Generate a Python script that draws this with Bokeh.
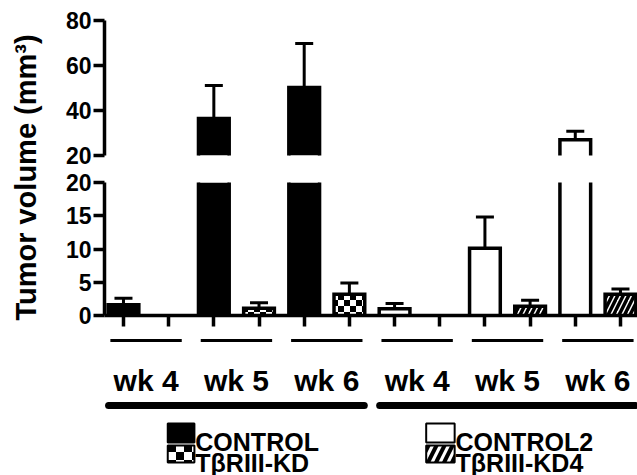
import math
import base64
from bokeh.plotting import figure
from bokeh.models import (Range1d, FixedTicker, Whisker, TeeHead, ColumnDataSource,
                          ImageURLTexture)
from bokeh.layouts import row, column
from bokeh.core.properties import value
from bokeh.embed import file_html
from bokeh.resources import INLINE

# ---------------- data ----------------
weeks = ["wk 4", "wk 5", "wk 6"]
series = ["CONTROL", "TβRIII-KD", "CONTROL2", "TβRIII-KD4"]
control_mean = [1.6, 36.4, 50.2]
control_sem = [1.0, 14.7, 19.6]
kd_mean = [0.0, 1.1, 3.2]
kd_sem = [0.0, 0.8, 1.7]
control2_mean = [1.0, 10.1, 27.0]
control2_sem = [0.8, 4.7, 3.8]
kd4_mean = [0.0, 1.4, 3.2]
kd4_sem = [0.0, 0.9, 0.8]
upper_ticks = [20, 40, 60, 80]
lower_ticks = [0, 5, 10, 15, 20]
y_title = "Tumor volume (mm³)"

FONT = "Liberation Sans"
BAR_W = 0.68

def xpos(g, w, s):
    return g * 6 + w * 2 + s

series_data = [
    (0, 0, control_mean, control_sem),
    (0, 1, kd_mean, kd_sem),
    (1, 0, control2_mean, control2_sem),
    (1, 1, kd4_mean, kd4_sem),
]

def checker_url(c):
    n = 2 * c
    svg = ("<svg xmlns='http://www.w3.org/2000/svg' width='%d' height='%d'>"
           "<rect width='%d' height='%d' fill='white'/>"
           "<rect width='%d' height='%d' fill='black'/>"
           "<rect x='%d' y='%d' width='%d' height='%d' fill='black'/></svg>"
           % (n, n, n, n, c, c, c, c, c, c))
    return "data:image/svg+xml;base64," + base64.b64encode(svg.encode()).decode()

checker_bar = ImageURLTexture(url=checker_url(6))
checker_leg = ImageURLTexture(url=checker_url(8))

def fill_style(i, legend=False):
    if i == 0:
        return dict(fill_color="black")
    if i == 1:
        return dict(fill_color="white", hatch_pattern=value("checker"),
                    hatch_extra={"checker": checker_leg if legend else checker_bar},
                    hatch_color="black")
    if i == 2:
        return dict(fill_color="white")
    return dict(fill_color="white", hatch_pattern="right_diagonal_line",
                hatch_color="black", hatch_scale=16 if legend else 11,
                hatch_weight=4 if legend else 3.5)

x_range = Range1d(-0.42, 11.377)

def base_fig(height, y_range, **kw):
    p = figure(width=581, height=height, x_range=x_range, y_range=y_range,
               output_backend="svg", toolbar_location=None,
               min_border_left=48, min_border_right=0, **kw)
    p.grid.visible = False
    p.outline_line_color = None
    p.background_fill_color = "white"
    p.border_fill_color = "white"
    return p

def style_yaxis(ax, ticks):
    ax.ticker = FixedTicker(ticks=ticks)
    ax.axis_line_width = 3.5
    ax.major_tick_line_width = 3.5
    ax.major_tick_out = 11
    ax.major_tick_in = 0
    ax.minor_tick_line_color = None
    ax.major_label_text_font = FONT
    ax.major_label_text_font_style = "bold"
    ax.major_label_text_font_size = "23px"
    ax.major_label_standoff = 2
    ax.major_label_text_color = "black"

top = base_fig(168, Range1d(20, 80), x_axis_location=None,
               min_border_top=20, min_border_bottom=13)
style_yaxis(top.yaxis[0], upper_ticks)

bot = base_fig(164, Range1d(0, 20), min_border_top=14, min_border_bottom=17)
style_yaxis(bot.yaxis[0], lower_ticks)
xa = bot.xaxis[0]
xa.ticker = FixedTicker(ticks=[xpos(g, w, s) for g in range(2) for w in range(3) for s in range(2)])
xa.major_label_text_color = None
xa.major_label_text_font_size = "1px"
xa.major_label_standoff = 0
xa.axis_line_width = 3.5
xa.major_tick_line_width = 3.5
xa.major_tick_out = 11
xa.major_tick_in = 0
xa.minor_tick_line_color = None

for i, (g, s, means, sems) in enumerate(series_data):
    for p, lo in ((top, 20), (bot, 0)):
        idx = [w for w in range(3) if means[w] > lo]
        if not idx:
            continue
        xs = [xpos(g, w, s) for w in idx]
        ms = [means[w] for w in idx]
        src = ColumnDataSource(dict(x=xs, top=ms))
        outline = ColumnDataSource(dict(
            xs=[[x - BAR_W / 2, x - BAR_W / 2, x + BAR_W / 2, x + BAR_W / 2] for x in xs],
            ys=[[0, m, m, 0] for m in ms]))
        p.vbar(x="x", top="top", bottom=0, width=BAR_W, source=src,
               line_color=None, **fill_style(i))
        p.multi_line(xs="xs", ys="ys", source=outline, line_color="black",
                     line_width=3.5, line_join="miter")
    for p, cond in ((top, lambda m: m > 20), (bot, lambda m: m <= 20)):
        sel = [k for k in range(3) if sems[k] > 0 and cond(means[k])]
        if not sel:
            continue
        wsrc = ColumnDataSource(dict(x=[xpos(g, k, s) for k in sel],
                                     lower=[means[k] for k in sel],
                                     upper=[means[k] + sems[k] for k in sel]))
        p.add_layout(Whisker(source=wsrc, base="x", lower="lower", upper="upper",
                             line_width=3, line_color="black", lower_head=None,
                             upper_head=TeeHead(size=18, line_width=3, line_color="black"),
                             level="annotation"))

# ---------------- annotations under the axis ----------------
ann = base_fig(143, Range1d(0, 143), x_axis_location=None, y_axis_location=None,
               min_border_top=0, min_border_bottom=0)
pair_centers = [xpos(g, w, 0) + 0.5 for g in range(2) for w in range(3)]
pair_labels = [weeks[w] for g in range(2) for w in range(3)]
ann.segment(x0=[c - 0.79 for c in pair_centers], x1=[c + 0.79 for c in pair_centers],
            y0=135, y1=135, line_width=3, line_color="black")
ann.text(x=pair_centers, y=95, text=pair_labels, text_align="center",
         text_baseline="alphabetic", text_font=value(FONT), text_font_style="bold",
         text_font_size=value("30px"), text_color="black")
group_centers = [xpos(g, 1, 0) + 0.5 for g in range(2)]
ann.segment(x0=[c - 2.83 for c in group_centers], x1=[c + 2.83 for c in group_centers],
            y0=70, y1=70, line_width=7, line_color="black", line_cap="round")

# legend (layout positions)
leg_sw = [(0.98, 1.57), (6.70, 7.33)]
leg_tx = [1.59, 7.35]
rows_y = [(33, 52, 34), (13, 30, 13)]
for i in range(4):
    g, r = i // 2, i % 2
    l, rr = leg_sw[g]
    b, t, ty = rows_y[r]
    ann.quad(left=[l], right=[rr], bottom=[b], top=[t], line_color="black",
             line_width=2, **fill_style(i, legend=True))
    ann.text(x=[leg_tx[g]], y=[ty], text=[series[i]], text_align="left",
             text_baseline="alphabetic", text_font=value(FONT), text_font_style="bold",
             text_font_size=value("25px"), text_color="black")

# ---------------- y title ----------------
tf = figure(width=56, height=475, x_range=Range1d(0, 56), y_range=Range1d(0, 475),
            output_backend="svg", toolbar_location=None, x_axis_location=None,
            y_axis_location=None, min_border=0)
tf.grid.visible = False
tf.outline_line_color = None
tf.text(x=[25], y=[298], text=[y_title], angle=math.pi / 2, text_align="center",
        text_baseline="alphabetic", text_font=value(FONT), text_font_style="bold",
        text_font_size=value("29px"), text_color="black")

layout = row(tf, column(top, bot, ann))
open("out.html", "w").write(file_html(layout, INLINE))
